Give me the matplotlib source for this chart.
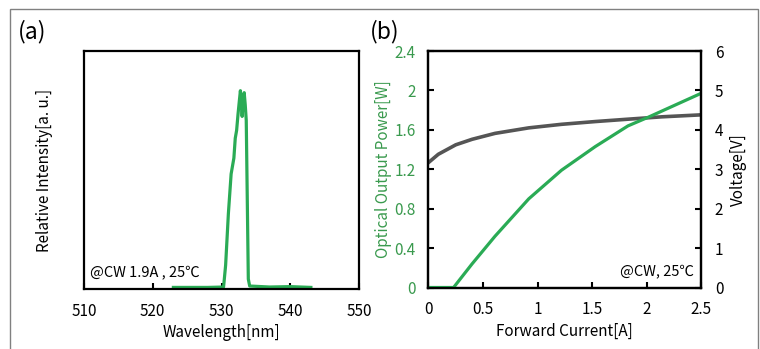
import matplotlib
matplotlib.use("Agg")
import matplotlib.pyplot as plt
from matplotlib.patches import Rectangle

plt.rcParams['font.family'] = ['Noto Sans CJK JP', 'DejaVu Sans']

GREEN = '#2aab55'
GREEN_TXT = '#3a9a4e'
GRAY = '#555555'

# (a) emission spectrum
wavelength = [523.0, 528.0, 530.3, 530.6, 531.0, 531.4, 531.6, 531.8, 532.0,
              532.2, 532.4, 532.6, 532.75, 532.9, 533.0, 533.15, 533.3, 533.45,
              533.6, 533.75, 533.9, 534.1, 537.0, 540.0, 543.0]
intensity = [0.008, 0.008, 0.01, 0.12, 0.38, 0.58, 0.62, 0.66, 0.76,
             0.80, 0.88, 0.95, 1.00, 0.93, 0.87, 0.95, 0.99, 0.93,
             0.85, 0.45, 0.05, 0.015, 0.01, 0.012, 0.008]
wl_ticks = [510, 520, 530, 540, 550]

# (b) L-I-V characteristics
current = [0.0, 0.1, 0.23, 0.4, 0.61, 0.92, 1.22, 1.53, 1.83, 2.02, 2.14,
           2.32, 2.5]
power = [0.0, 0.0, 0.0, 0.24, 0.52, 0.90, 1.19, 1.43, 1.64, 1.73, 1.79,
         1.88, 1.97]
v_current = [0.0, 0.09, 0.25, 0.4, 0.61, 0.92, 1.22, 1.53, 1.83, 2.14, 2.5]
voltage = [3.17, 3.38, 3.62, 3.76, 3.91, 4.05, 4.14, 4.21, 4.27, 4.33, 4.38]
current_ticks = [0, 0.5, 1, 1.5, 2, 2.5]
power_ticks = [0, 0.4, 0.8, 1.2, 1.6, 2, 2.4]
voltage_ticks = [0, 1, 2, 3, 4, 5, 6]

fig = plt.figure(figsize=(7.6, 3.49), dpi=100)

# outer frame
fig.patches.append(Rectangle((10 / 760, -0.05), 748 / 760, 1.05 - 9 / 349,
                             transform=fig.transFigure, fill=False,
                             edgecolor='#808080', linewidth=1.0))

fig.text(18 / 760, 1 - 32 / 349, '(a)', fontsize=16.5, va='center', ha='left')
fig.text(370 / 760, 1 - 32 / 349, '(b)', fontsize=16.5, va='center', ha='left')

# ---- panel (a)
ax1 = fig.add_axes([84 / 760, 1 - 289 / 349, 275 / 760, 238 / 349])
ax1.plot(wavelength, intensity, color=GREEN, linewidth=2.3, solid_joinstyle='round')
ax1.set_xlim(510, 550)
ax1.set_ylim(0, 1.2)
ax1.set_xticks(wl_ticks)
ax1.set_xticklabels([str(t) for t in wl_ticks])
ax1.set_yticks([])
ax1.tick_params(axis='x', direction='in', length=4, width=1.5, pad=10,
                labelsize=11)
for s in ax1.spines.values():
    s.set_linewidth(1.6)
ax1.set_xlabel('Wavelength[nm]', fontsize=11, labelpad=3)
ax1.set_ylabel('Relative Intensity[a. u.]', fontsize=11, labelpad=22)
ax1.text(0.02, 0.07, '@CW 1.9A , 25\u2103', transform=ax1.transAxes,
         fontsize=10.5, ha='left', va='center')

# ---- panel (b)
ax2 = fig.add_axes([428.5 / 760, 1 - 287.5 / 349, 272.5 / 760, 236.5 / 349])
ax3 = ax2.twinx()
ax3.plot(v_current, voltage, color=GRAY, linewidth=2.6)
ax2.plot(current, power, color=GREEN, linewidth=2.3)
ax2.set_zorder(ax3.get_zorder() + 1)
ax2.patch.set_visible(False)

ax2.set_xlim(0, 2.5)
ax2.set_ylim(0, 2.4)
ax3.set_ylim(0, 6)
ax2.set_xticks(current_ticks)
ax2.set_xticklabels(['0', '0.5', '1', '1.5', '2', '2.5'])
ax2.set_yticks(power_ticks)
ax2.set_yticklabels(['0', '0.4', '0.8', '1.2', '1.6', '2', '2.4'])
ax3.set_yticks(voltage_ticks)
ax2.tick_params(axis='x', direction='in', length=4, width=1.5, pad=10,
                labelsize=11)
ax2.tick_params(axis='y', direction='in', length=4, width=1.5, pad=9,
                labelsize=11, labelcolor=GREEN_TXT)
ax3.tick_params(axis='y', direction='in', length=4, width=1.5, pad=10,
                labelsize=11)
for a in (ax2, ax3):
    for s in a.spines.values():
        s.set_linewidth(1.6)
ax2.set_xlabel('Forward Current[A]', fontsize=11, labelpad=3)
ax2.set_ylabel('Optical Output Power[W]', fontsize=11, color=GREEN_TXT,
               labelpad=2)
ax3.set_ylabel('Voltage[V]', fontsize=11, labelpad=5)
ax2.text(0.975, 0.07, '@CW, 25\u2103', transform=ax2.transAxes,
         fontsize=10.5, ha='right', va='center')

fig.savefig('out.png', dpi=100)
